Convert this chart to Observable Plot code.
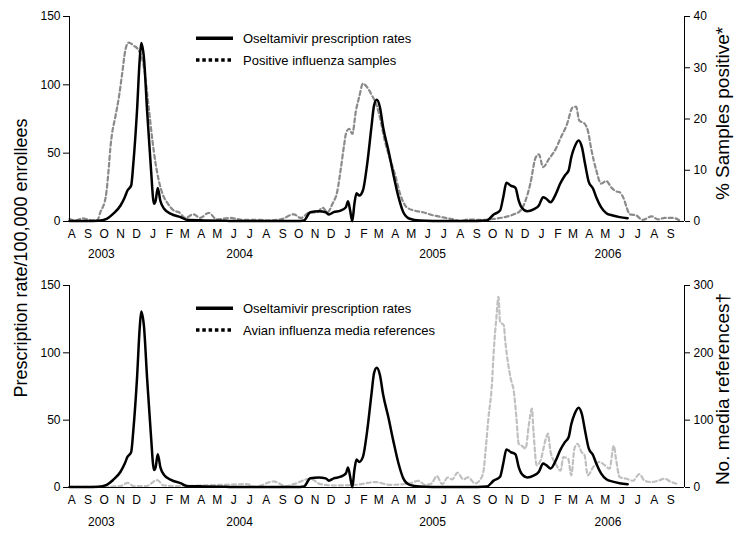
<!DOCTYPE html>
<html><head><meta charset="utf-8">
<script src="https://cdn.jsdelivr.net/npm/d3@7"></script>
<script src="https://cdn.jsdelivr.net/npm/@observablehq/plot@0.6"></script>
<style>
body{margin:0;background:#fff;font-family:Arial,"Liberation Sans",sans-serif;}
#wrap{position:relative;width:735px;height:534px;overflow:hidden;}
#wrap svg{display:block;}
#overlay{position:absolute;left:0;top:0;pointer-events:none;}
</style></head><body><div id="wrap"></div>
<script>
// Oseltamivir prescription rates per 100,000 enrollees
const rxSeries = [
["2003-08-01",0.3],["2003-09-01",0.3],["2003-09-24",0.5],["2003-10-10",2],["2003-10-22",5.6],
["2003-11-05",11.7],["2003-11-13",17.8],["2003-11-18",22.7],["2003-11-25",26.3],["2003-11-29",42],
["2003-12-06",81],["2003-12-11",118],["2003-12-14",130.7],["2003-12-19",120],["2003-12-25",81],
["2004-01-01",40],["2004-01-07",13],["2004-01-10",15],["2004-01-14",24.6],["2004-01-19",15],
["2004-01-26",9.3],["2004-02-08",5.6],["2004-02-26",3.2],["2004-03-09",1.2],["2004-04-10",0.8],
["2004-05-15",0.5],["2004-06-20",0.4],["2004-07-25",0.3],["2004-09-01",0.4],["2004-10-01",0.4],
["2004-10-15",0.8],["2004-10-27",6.8],["2004-11-12",7.5],["2004-11-25",6.8],["2004-12-01",5.1],
["2004-12-10",6.8],["2004-12-23",8],["2005-01-02",10.5],["2005-01-06",14.9],["2005-01-10",8],
["2005-01-14",0.2],["2005-01-18",13],["2005-01-22",20.7],["2005-01-27",19],["2005-02-03",22.7],
["2005-02-11",42],["2005-02-19",69],["2005-02-24",85],["2005-03-01",89],["2005-03-07",83.6],
["2005-03-13",69],["2005-03-23",52],["2005-04-01",35],["2005-04-11",17.8],["2005-04-20",6.8],
["2005-05-02",2],["2005-05-21",0.7],["2005-06-20",0.4],["2005-07-20",0.3],["2005-08-20",0.3],
["2005-09-24",0.7],["2005-10-07",5.1],["2005-10-19",8],["2005-10-25",17.8],["2005-10-31",28.3],
["2005-11-08",26.3],["2005-11-17",24.6],["2005-11-23",15.4],["2005-11-29",10],["2005-12-09",7.5],
["2005-12-21",8.8],["2005-12-31",11.7],["2006-01-08",17.8],["2006-01-14",16.6],["2006-01-22",14.1],
["2006-02-01",20.2],["2006-02-09",27.6],["2006-02-18",33.7],["2006-02-25",37.3],["2006-03-02",47],
["2006-03-08",54.4],["2006-03-16",59.3],["2006-03-22",54.4],["2006-03-28",42],["2006-04-04",28.8],
["2006-04-12",24],["2006-04-18",17.8],["2006-04-27",10.5],["2006-05-07",6.1],["2006-05-19",4.4],
["2006-06-01",3.2],["2006-06-16",2.4]
];
// % of influenza samples positive
const samplesSeries = [
["2003-08-01",0.5],["2003-08-12",0.2],["2003-08-25",0.6],["2003-09-08",0.3],["2003-09-22",0.2],
["2003-09-28",1.8],["2003-10-08",4.7],["2003-10-14",10.6],["2003-10-17",14.5],["2003-10-20",17.1],
["2003-10-26",20.3],["2003-11-02",24.3],["2003-11-08",28.8],["2003-11-14",33.4],["2003-11-20",34.9],
["2003-11-30",34.3],["2003-12-09",33.4],["2003-12-19",30.1],["2003-12-28",22.3],["2004-01-04",15.8],
["2004-01-10",11.3],["2004-01-16",8],["2004-01-23",5.4],["2004-02-02",3.5],["2004-02-14",2.1],
["2004-02-23",1.8],["2004-03-06",0.7],["2004-03-21",1.4],["2004-04-03",0.7],["2004-04-19",1.7],
["2004-05-04",0.4],["2004-05-29",0.7],["2004-06-23",0.3],["2004-07-25",0.3],["2004-08-07",0.2],
["2004-09-01",0.4],["2004-09-26",1.4],["2004-10-09",0.7],["2004-10-27",1.8],["2004-11-09",1.8],
["2004-11-19",2.7],["2004-11-28",1.8],["2004-12-08",3.5],["2004-12-17",6],["2004-12-23",10],
["2004-12-30",15.2],["2005-01-02",17.1],["2005-01-08",18.1],["2005-01-14",17.1],["2005-01-21",21.7],
["2005-01-27",24.3],["2005-02-03",26.9],["2005-02-11",26.2],["2005-02-20",24.6],["2005-03-01",22.6],
["2005-03-07",20.3],["2005-03-16",15.8],["2005-03-25",12.5],["2005-04-04",9.3],["2005-04-14",5.4],
["2005-04-26",2.8],["2005-05-12",2.1],["2005-05-27",1.8],["2005-06-15",1.2],["2005-07-04",0.8],
["2005-07-23",0.4],["2005-08-05",0.1],["2005-08-20",0.4],["2005-09-12",0.3],["2005-10-07",0.5],
["2005-10-25",0.8],["2005-11-14",1.4],["2005-11-26",2.1],["2005-12-06",4.1],["2005-12-15",7.4],
["2005-12-25",12.5],["2005-12-31",13.1],["2006-01-08",10.6],["2006-01-19",12.2],["2006-02-01",14.2],
["2006-02-09",16.1],["2006-02-21",18.7],["2006-03-05",22.3],["2006-03-11",22.4],["2006-03-17",19.7],
["2006-03-27",19.1],["2006-04-02",17.8],["2006-04-09",13.9],["2006-04-18",10],["2006-04-27",7.4],
["2006-05-07",7.9],["2006-05-16",6.7],["2006-05-25",5.9],["2006-06-01",5.7],["2006-06-10",4.1],
["2006-06-14",2.8],["2006-06-20",1.4],["2006-07-02",1.2],["2006-07-14",0.3],["2006-07-31",1],
["2006-08-12",0.4],["2006-08-25",0.7],["2006-09-10",0.7],["2006-09-23",0.1]
];
// Number of avian influenza media references
const mediaSeries = [
["2003-08-01",1],["2003-09-28",1],["2003-11-05",2],["2003-11-18",7],["2003-11-30",2],
["2003-12-23",2],["2004-01-13",11],["2004-01-25",3],["2004-02-26",2],["2004-04-03",3],
["2004-05-16",4],["2004-06-30",5],["2004-07-15",1],["2004-08-19",9],["2004-09-11",2],
["2004-09-26",5],["2004-10-27",13],["2004-11-15",5],["2004-12-13",3],["2005-01-21",4],
["2005-02-27",8],["2005-03-25",4],["2005-05-02",6],["2005-05-18",10],["2005-05-31",4],
["2005-06-12",6],["2005-06-22",17],["2005-07-02",5],["2005-07-13",15],["2005-07-21",12],
["2005-07-31",22],["2005-08-11",12],["2005-08-20",15],["2005-09-02",6],["2005-09-12",12],
["2005-09-18",25],["2005-09-21",48],["2005-09-27",102],["2005-10-04",157],["2005-10-07",201],
["2005-10-12",251],["2005-10-16",283],["2005-10-19",246],["2005-10-26",241],["2005-10-29",216],
["2005-11-01",196],["2005-11-08",162],["2005-11-14",142],["2005-11-19",102],["2005-11-23",65],
["2005-11-29",62],["2005-12-06",58],["2005-12-12",92],["2005-12-18",117],["2005-12-21",82],
["2005-12-27",33],["2006-01-03",40],["2006-01-13",72],["2006-01-17",80],["2006-01-22",53],
["2006-02-01",35],["2006-02-10",25],["2006-02-15",45],["2006-02-24",43],["2006-03-02",18],
["2006-03-08",58],["2006-03-14",65],["2006-03-21",53],["2006-03-27",48],["2006-04-02",18],
["2006-04-12",30],["2006-04-24",38],["2006-05-04",33],["2006-05-13",28],["2006-05-21",62],
["2006-05-25",43],["2006-06-01",15.5],["2006-06-14",13],["2006-06-26",10],["2006-07-08",20],
["2006-07-18",10],["2006-07-31",8],["2006-08-12",10],["2006-08-25",13],["2006-09-04",9],
["2006-09-16",5.5]
];
const monthLabels = ["A","S","O","N","D","J","F","M","A","M","J","J",
  "A","S","O","N","D","J","F","M","A","M","J","J",
  "A","S","O","N","D","J","F","M","A","M","J","J","A","S"];
const yearLabels = [["2003-09-30","2003"],["2004-06-16","2004"],["2005-06-14","2005"],["2006-05-10","2006"]];
const leftTicks = [0,50,100,150];
const samplesTicks = [0,10,20,30,40];
const mediaTicks = [0,100,200,300];

const parse = s => new Date(s + "T00:00:00Z");
const xStart = parse("2003-08-01"), xEnd = parse("2006-10-01");
const rx = rxSeries.map(([d,v]) => ({date: parse(d), v}));
const samples = samplesSeries.map(([d,v]) => ({date: parse(d), v}));
const media = mediaSeries.map(([d,v]) => ({date: parse(d), v}));
const monthStarts = d3.utcMonth.range(xStart, xEnd);
const months = monthLabels.map((label, i) => ({date: d3.utcDay.offset(monthStarts[i], 4), label}));
const years = yearLabels.map(([d, label]) => ({date: parse(d), label}));

function panel({second, secondMax, secondTicks, secondColor, marginTop, marginBottom, yearDy}) {
  const k = 150 / secondMax;
  return Plot.plot({
    width: 735, height: 267,
    marginLeft: 69, marginRight: 51, marginTop, marginBottom,
    style: {fontFamily: "Arial, 'Liberation Sans', sans-serif", fontSize: "12px", color: "#000", background: "#fff"},
    x: {type: "utc", domain: [xStart, xEnd], axis: null},
    y: {domain: [0, 150], axis: null},
    marks: [
      Plot.axisY({anchor: "left", ticks: leftTicks, tickSize: 6, tickPadding: 3, label: null, fontSize: 12}),
      Plot.axisY({anchor: "right", ticks: secondTicks.map(v => v * k), tickFormat: d => String(Math.round(d / k)),
        tickSize: 5, tickPadding: 4, label: null, fontSize: 12}),
      Plot.line(second, {x: "date", y: d => d.v * k, stroke: secondColor, strokeWidth: 2.2,
        strokeDasharray: "4,3", curve: "monotone-x"}),
      Plot.line(rx, {x: "date", y: "v", stroke: "#000", strokeWidth: 2.5, curve: "monotone-x", strokeLinejoin: "round"}),
      Plot.ruleX([xStart], {stroke: "#000", strokeWidth: 1}),
      Plot.ruleX([xEnd], {stroke: "#000", strokeWidth: 1}),
      Plot.ruleY([0], {stroke: "#000", strokeWidth: 1}),
      Plot.text(months, {x: "date", text: "label", frameAnchor: "bottom", dy: 16, fontSize: 12}),
      Plot.text(years, {x: "date", text: "label", frameAnchor: "bottom", dy: yearDy, fontSize: 12})
    ]
  });
}

const wrap = document.getElementById("wrap");
wrap.appendChild(panel({second: samples, secondMax: 40, secondTicks: samplesTicks, secondColor: "#8a8a8a",
  marginTop: 16, marginBottom: 46, yearDy: 36.5}));
wrap.appendChild(panel({second: media, secondMax: 300, secondTicks: mediaTicks, secondColor: "#c0c0c0",
  marginTop: 18, marginBottom: 47, yearDy: 38}));

// Overlay: axis titles and legends
const ov = d3.select(wrap).append("svg").attr("id", "overlay").attr("width", 735).attr("height", 534)
  .style("font-family", "Arial, 'Liberation Sans', sans-serif");
ov.append("text").attr("transform", "translate(26.5,258) rotate(-90)").attr("text-anchor", "middle")
  .attr("font-size", 18).text("Prescription rate/100,000 enrollees");
ov.append("text").attr("transform", "translate(729,113.5) rotate(-90)").attr("text-anchor", "middle")
  .attr("font-size", 19).text("% Samples positive*");
ov.append("text").attr("transform", "translate(729,389) rotate(-90)").attr("text-anchor", "middle")
  .attr("font-size", 19).text("No. media references\u2020");
const legends = [
  {y1: 38.3, y2: 60, labels: ["Oseltamivir prescription rates", "Positive influenza samples"]},
  {y1: 308.3, y2: 330, labels: ["Oseltamivir prescription rates", "Avian influenza media references"]}
];
for (const lg of legends) {
  ov.append("line").attr("x1", 196).attr("x2", 233).attr("y1", lg.y1).attr("y2", lg.y1)
    .attr("stroke", "#000").attr("stroke-width", 3.5);
  ov.append("line").attr("x1", 196).attr("x2", 233).attr("y1", lg.y2).attr("y2", lg.y2)
    .attr("stroke", "#000").attr("stroke-width", 3.5).attr("stroke-dasharray", "3.5,2.8");
  ov.append("text").attr("x", 243).attr("y", lg.y1 + 4.5).attr("font-size", 13).text(lg.labels[0]);
  ov.append("text").attr("x", 243).attr("y", lg.y2 + 4.5).attr("font-size", 13).text(lg.labels[1]);
}
</script></body></html>
